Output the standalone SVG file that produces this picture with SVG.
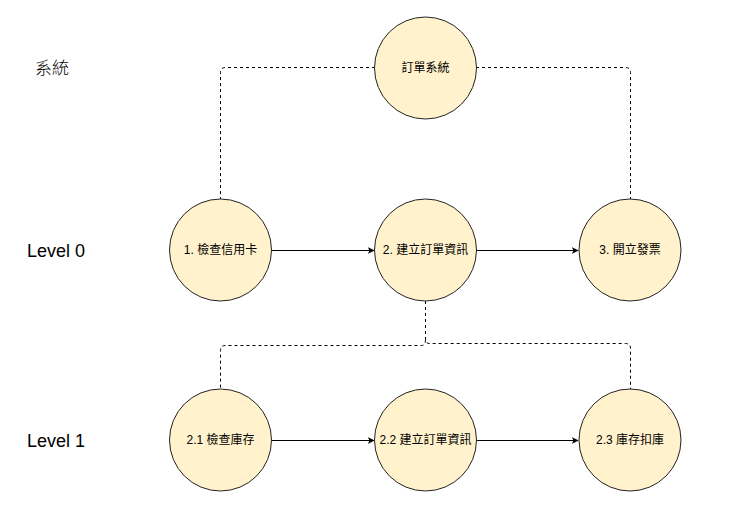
<svg xmlns="http://www.w3.org/2000/svg" width="755" height="510" viewBox="0 0 755 510">
<defs>
<style>
.node{fill:#fff2cc;stroke:#222;stroke-width:1}
.lbl{font-family:"Liberation Sans","Noto Sans CJK TC",sans-serif;font-size:12px;fill:#000;text-anchor:middle;dominant-baseline:central}
.side{font-family:"Liberation Sans","Noto Sans CJK TC",sans-serif;font-size:18px;fill:#000;dominant-baseline:central}
.dash{fill:none;stroke:#000;stroke-width:1;stroke-dasharray:3 3}
.flow{fill:none;stroke:#000;stroke-width:1;marker-end:url(#arr)}
</style>
<marker id="arr" viewBox="0 0 10 10" refX="9" refY="5" markerWidth="7" markerHeight="7" orient="auto" markerUnits="userSpaceOnUse">
<path d="M0,0 L10,5 L0,10 L2.5,5 Z" fill="#000"/>
</marker>
</defs>
<rect width="755" height="510" fill="#fff"/>
<text class="side" x="35" y="68" style="font-size:17px;font-weight:300">系統</text>
<text class="side" x="27" y="251">Level 0</text>
<text class="side" x="27" y="441">Level 1</text>
<g id="connectors">
<path class="dash" d="M375,67.5 H225.5 Q220.5,67.5 220.5,72.5 V199"/>
<path class="dash" d="M476,67.5 H625.5 Q630.5,67.5 630.5,72.5 V199"/>
<path class="dash" d="M425.5,301 V339.5 Q425.5,343.5 429.5,343.5 H625.5 Q630.5,343.5 630.5,348.5 V389"/>
<path class="dash" d="M425.5,339.5 Q425.5,345.5 421.5,345.5 H225.5 Q220.5,345.5 220.5,350.5 V389"/>
<path class="flow" d="M271,250.5 H374"/>
<path class="flow" d="M476,250.5 H578"/>
<path class="flow" d="M271,440.5 H374"/>
<path class="flow" d="M476,440.5 H578"/>
</g>
<g id="n0"><circle class="node" cx="425.5" cy="68" r="51"/><text class="lbl" x="425.5" y="68">訂單系統</text></g>
<g id="n1"><circle class="node" cx="220.5" cy="250" r="51"/><text class="lbl" x="220.5" y="250">1. 檢查信用卡</text></g>
<g id="n2"><circle class="node" cx="425.5" cy="250" r="51"/><text class="lbl" x="425.5" y="250">2. 建立訂單資訊</text></g>
<g id="n3"><circle class="node" cx="630" cy="250" r="51"/><text class="lbl" x="630" y="250">3. 開立發票</text></g>
<g id="n21"><circle class="node" cx="220.5" cy="440" r="51"/><text class="lbl" x="220.5" y="440">2.1 檢查庫存</text></g>
<g id="n22"><circle class="node" cx="425.5" cy="440" r="51"/><text class="lbl" x="425.5" y="440">2.2 建立訂單資訊</text></g>
<g id="n23"><circle class="node" cx="630" cy="440" r="51"/><text class="lbl" x="630" y="440">2.3 庫存扣庫</text></g>
</svg>
